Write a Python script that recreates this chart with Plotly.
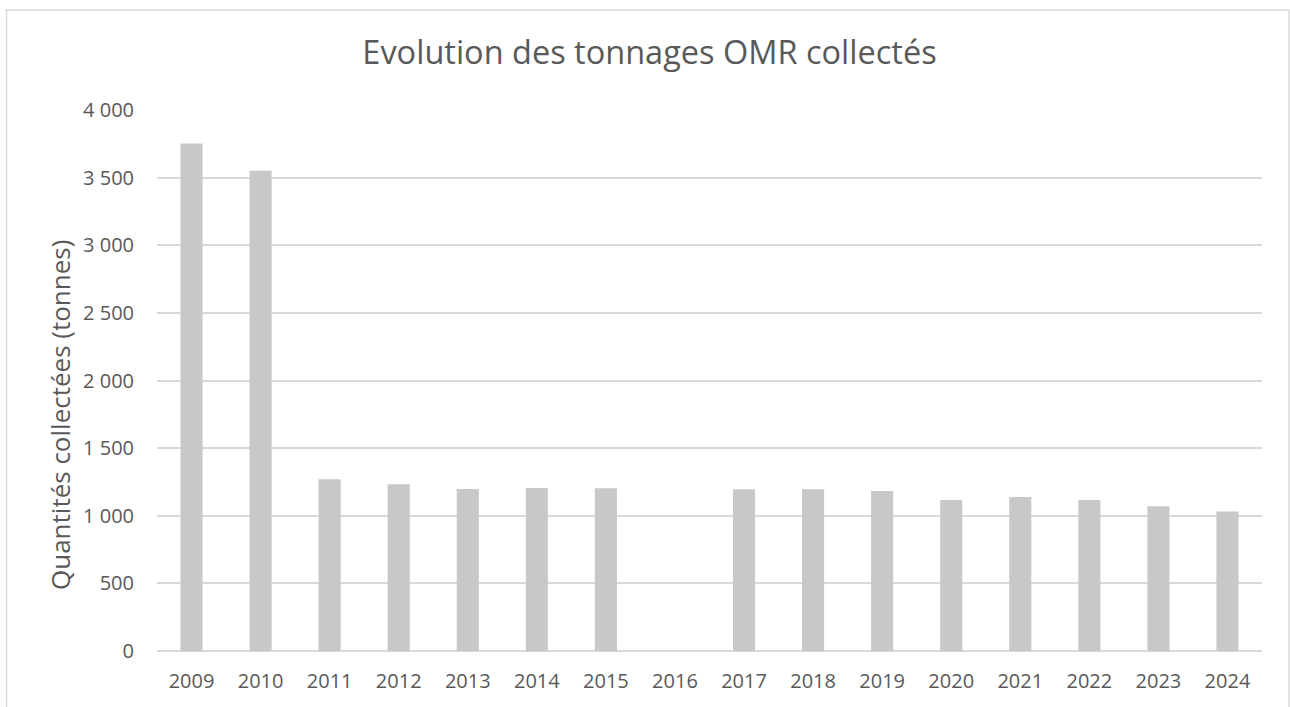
import plotly.graph_objects as go

years = ["2009", "2010", "2011", "2012", "2013", "2014", "2015", "2016",
         "2017", "2018", "2019", "2020", "2021", "2022", "2023", "2024"]
tonnages = [3752, 3551, 1270, 1232, 1198, 1206, 1203, None,
            1196, 1196, 1183, 1116, 1139, 1116, 1070, 1031]
y_ticks = [0, 500, 1000, 1500, 2000, 2500, 3000, 3500, 4000]
y_tick_labels = ["0", "500", "1 000", "1 500", "2 000", "2 500", "3 000", "3 500", "4 000"]

title_text = "Evolution des tonnages OMR collectés"
y_title = "Quantités collectées (tonnes)"

FONT = "Open Sans"
GREY_TXT = "#595959"

fig = go.Figure(go.Bar(
    x=years, y=tonnages,
    marker=dict(color="#C8C8C8", line=dict(width=0)),
    hoverinfo="x+y",
))

W, H = 1290, 707
L, R, T, B = 157, 28, 110, 56
pw, ph = W - L - R, H - T - B

def px(x):
    return (x - L) / pw

def py(y):
    return (H - B - y) / ph

fig.update_layout(
    width=W, height=H,
    margin=dict(l=L, r=R, t=T, b=B),
    paper_bgcolor="white", plot_bgcolor="white",
    bargap=0.68,
    showlegend=False,
    font=dict(family=FONT, color=GREY_TXT, size=20),
    title=dict(text=title_text, x=px(649.5), xanchor="center", xref="paper",
               y=1 - 53 / H, yanchor="middle",
               font=dict(family=FONT, size=32.5, color=GREY_TXT)),
    xaxis=dict(type="category", categoryorder="array", categoryarray=years,
               showgrid=False, showline=False, zeroline=False, ticks="",
               ticklabelstandoff=16,
               tickfont=dict(family=FONT, size=20, color=GREY_TXT)),
    yaxis=dict(range=[0, 4000], tickvals=y_ticks, ticktext=y_tick_labels,
               showgrid=True, gridcolor="#D9D9D9", gridwidth=1.5,
               zeroline=True, zerolinecolor="#D9D9D9", zerolinewidth=1.5,
               showline=False, ticks="", ticklabelstandoff=22,
               tickfont=dict(family=FONT, size=20, color=GREY_TXT)),
    annotations=[dict(text=y_title, textangle=-90, xref="paper", yref="paper",
                      x=px(60), y=py(415), xanchor="center", yanchor="middle",
                      showarrow=False,
                      font=dict(family=FONT, size=26, color=GREY_TXT))],
    shapes=[dict(type="rect", xref="paper", yref="paper",
                 x0=px(6.5), x1=px(1289), y0=py(720), y1=py(10),
                 line=dict(color="#D9D9D9", width=1.5), layer="below")],
)

fig.write_html("out.html", config={"displayModeBar": False},
               post_script="document.body.style.margin='0';document.body.style.overflow='hidden';")
